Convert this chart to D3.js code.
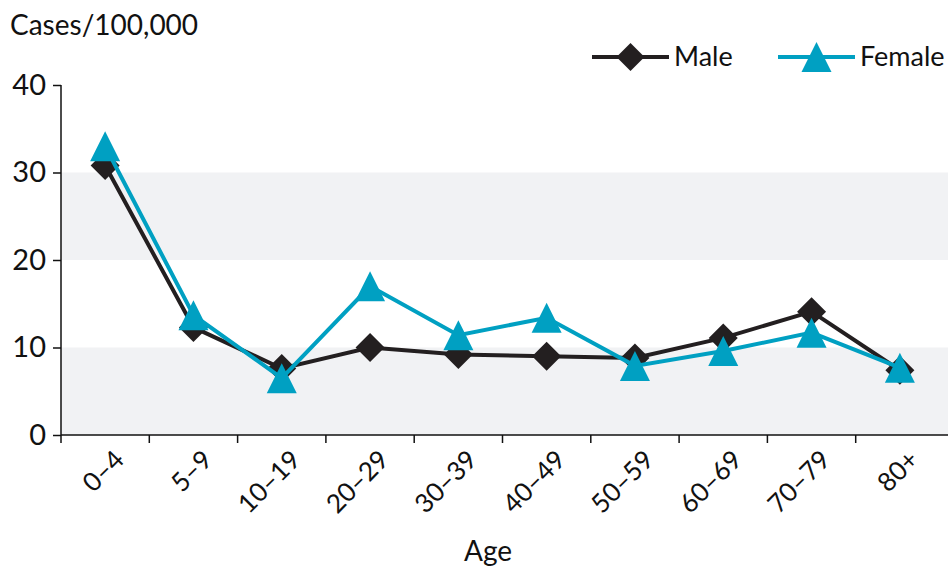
<!DOCTYPE html>
<html>
<head>
<meta charset="utf-8">
<script src="https://cdn.jsdelivr.net/npm/d3@7"></script>
<style>
  body { margin: 0; background: #fff; }
  text { font-family: Lato, "Open Sans", sans-serif; fill: #111; }
</style>
</head>
<body>
<div id="chart"></div>
<script>
// Cases per 100,000 by age group and sex

var ages = ["0–4", "5–9", "10–19", "20–29", "30–39", "40–49", "50–59", "60–69", "70–79", "80+"];
var male = [30.8, 12.3, 7.6, 10.0, 9.2, 9.0, 8.8, 11.1, 14.1, 7.4];
var female = [33.0, 13.7, 6.5, 17.0, 11.4, 13.4, 7.9, 9.6, 11.7, 7.7];
var yTicks = [0, 10, 20, 30, 40];
var bands = [[0, 10], [20, 30]];

var maleColor = "#231f20", femaleColor = "#00a0c2";

var W = 948, H = 568;
var margin = {top: 85, right: 0, bottom: 133, left: 61};
var width = W - margin.left - margin.right,
    height = H - margin.top - margin.bottom;

var svg = d3.select("#chart").append("svg")
    .attr("width", W)
    .attr("height", H);
var g = svg.append("g").attr("transform", "translate(" + margin.left + "," + margin.top + ")");

var x = d3.scaleBand().domain(ages).range([0, width - 4]).padding(0);
var y = d3.scaleLinear().domain([0, 40]).range([height, 0]);

// grey bands
g.selectAll("rect.band")
  .data(bands)
  .enter().append("rect")
    .attr("class", "band")
    .attr("x", 0)
    .attr("width", width)
    .attr("y", function(d) { return y(d[1]); })
    .attr("height", function(d) { return y(d[0]) - y(d[1]); })
    .attr("fill", "#f1f2f4");

// y axis
var yAxis = g.append("g")
    .call(d3.axisLeft(y).tickValues(yTicks).tickSize(8).tickPadding(7));
yAxis.select(".domain").attr("stroke", "#111").attr("stroke-width", 1.5).attr("d", "M0," + height + "V0");
yAxis.selectAll(".tick line").attr("stroke", "#111").attr("stroke-width", 1.5);
yAxis.selectAll(".tick text").style("font-size", "29px").attr("fill", "#111");

// x axis
var xAxisG = g.append("g").attr("transform", "translate(0," + height + ")");
xAxisG.append("line")
    .attr("x1", 0).attr("x2", width)
    .attr("stroke", "#111").attr("stroke-width", 1.5);
xAxisG.selectAll("line.tick")
  .data(ages)
  .enter().append("line")
    .attr("class", "tick")
    .attr("x1", function(d) { return x(d); })
    .attr("x2", function(d) { return x(d); })
    .attr("y1", 0).attr("y2", 8)
    .attr("stroke", "#111").attr("stroke-width", 1.5);
xAxisG.selectAll("text.lbl")
  .data(ages)
  .enter().append("text")
    .attr("class", "lbl")
    .attr("transform", function(d) {
      return "translate(" + (x(d) + x.bandwidth() / 2 + 14) + ",20) rotate(-45)";
    })
    .attr("text-anchor", "end")
    .attr("dy", "0.35em")
    .style("font-size", "26px")
    .text(function(d) { return d; });

// markers
function diamond(s) {
  return "M0," + (-s) + "L" + s + ",0L0," + s + "L" + (-s) + ",0Z";
}
function triangle(s) {
  return "M0," + (-s) + "L" + s + "," + s + "L" + (-s) + "," + s + "Z";
}

var line = d3.line()
    .x(function(d, i) { return x(ages[i]) + x.bandwidth() / 2; })
    .y(function(d) { return y(d); });

g.append("path").datum(male)
    .attr("d", line)
    .attr("fill", "none")
    .attr("stroke", maleColor)
    .attr("stroke-width", 4);
g.selectAll("path.male")
  .data(male)
  .enter().append("path")
    .attr("class", "male")
    .attr("transform", function(d, i) { return "translate(" + (x(ages[i]) + x.bandwidth() / 2) + "," + y(d) + ")"; })
    .attr("d", diamond(14.5))
    .attr("fill", maleColor);

g.append("path").datum(female)
    .attr("d", line)
    .attr("fill", "none")
    .attr("stroke", femaleColor)
    .attr("stroke-width", 4);
g.selectAll("path.female")
  .data(female)
  .enter().append("path")
    .attr("class", "female")
    .attr("transform", function(d, i) { return "translate(" + (x(ages[i]) + x.bandwidth() / 2) + "," + y(d) + ")"; })
    .attr("d", triangle(15))
    .attr("fill", femaleColor);

// titles
svg.append("text")
    .attr("x", 10).attr("y", 35)
    .style("font-size", "28px")
    .text("Cases/100,000");
svg.append("text")
    .attr("x", 488).attr("y", 561)
    .attr("text-anchor", "middle")
    .style("font-size", "28px")
    .text("Age");

// legend
var legend = [
  {name: "Male", color: maleColor, shape: diamond(14), x: 592},
  {name: "Female", color: femaleColor, shape: triangle(15), x: 778}
];
var lg = svg.selectAll("g.legend")
  .data(legend)
  .enter().append("g")
    .attr("class", "legend")
    .attr("transform", function(d) { return "translate(" + d.x + ",57)"; });
lg.append("line")
    .attr("x1", 0).attr("x2", 77)
    .attr("stroke", function(d) { return d.color; })
    .attr("stroke-width", 4);
lg.append("path")
    .attr("transform", "translate(38.5,0)")
    .attr("d", function(d) { return d.shape; })
    .attr("fill", function(d) { return d.color; });
lg.append("text")
    .attr("x", 82).attr("y", 0)
    .attr("dy", "0.35em")
    .style("font-size", "27px")
    .text(function(d) { return d.name; });
</script>
</body>
</html>
